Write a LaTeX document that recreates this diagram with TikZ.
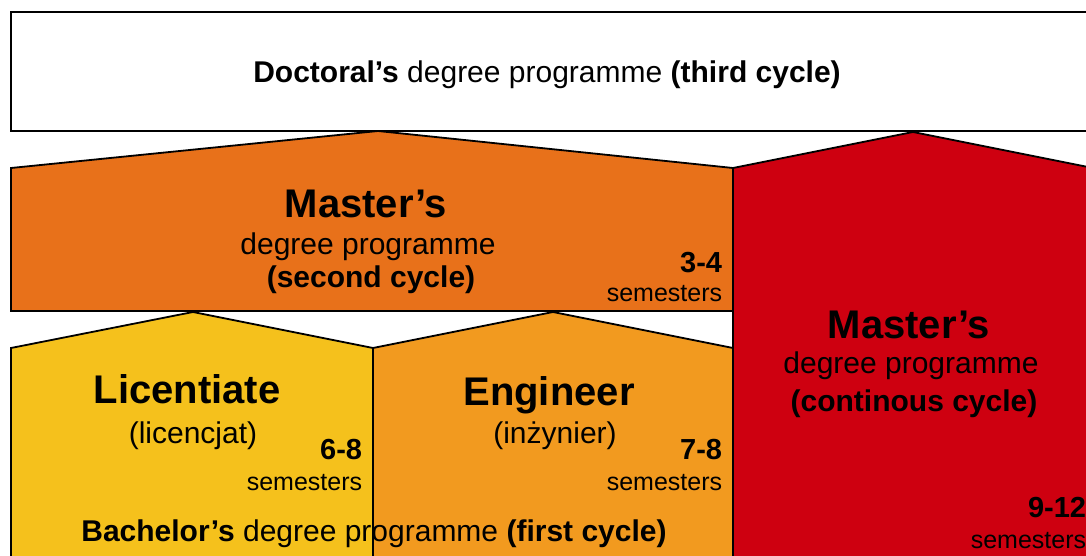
\documentclass[tikz,border=0pt]{standalone}
\usepackage{fontspec}
\setmainfont{Liberation Sans}
\definecolor{mastorange}{HTML}{E8711A}
\definecolor{contred}{HTML}{CE0010}
\definecolor{licyellow}{HTML}{F5C11C}
\definecolor{engorange}{HTML}{F29A1F}

\begin{document}
\begin{tikzpicture}[x=1pt, y=-1pt, line width=1.8pt,
    bigtxt/.style={inner sep=0pt, anchor=base, font=\fontsize{40}{48}\selectfont\bfseries},
    midtxt/.style={inner sep=0pt, anchor=base, font=\fontsize{30}{36}\selectfont},
    numtxt/.style={inner sep=0pt, anchor=base east, font=\fontsize{29}{35}\selectfont\bfseries},
    semtxt/.style={inner sep=0pt, anchor=base east, font=\fontsize{25}{30}\selectfont}]
  \useasboundingbox (0,0) rectangle (1086,556);

  % Blocks
  \draw[fill=white] (11,12) rectangle (1100,131);
  \draw[fill=mastorange] (11,311) -- (11,168) -- (378,131) -- (733,168) -- (733,311) -- cycle;
  \draw[fill=contred] (733,570) -- (733,168) -- (913,132) -- (1093,168) -- (1093,570);
  \draw[fill=licyellow] (11,570) -- (11,348) -- (193,312) -- (373,348) -- (373,570);
  \draw[fill=engorange] (373,570) -- (373,348) -- (553,312) -- (733,348) -- (733,570);

  % Nodes
  \node[midtxt] at (547,83) (doctoral) {\textbf{Doctoral’s} degree programme \textbf{(third cycle)}};

  \node[bigtxt] at (366,217) (second) {Master’s};
  \node[midtxt] at (368,254) (seconddeg) {degree programme};
  \node[midtxt] at (371,287) (secondcyc) {\textbf{(second cycle)}};
  \node[numtxt] at (723,272) (secondnum) {3-4};
  \node[semtxt] at (723,301) (secondsem) {semesters};

  \node[bigtxt] at (187,403) (lic) {Licentiate};
  \node[midtxt] at (193,443) (licpl) {(licencjat)};
  \node[numtxt] at (363,459) (licnum) {6-8};
  \node[semtxt] at (363,490) (licsem) {semesters};

  \node[bigtxt] at (549,405) (eng) {Engineer};
  \node[midtxt] at (555,443) (engpl) {(inżynier)};
  \node[numtxt] at (723,459) (engnum) {7-8};
  \node[semtxt] at (723,490) (engsem) {semesters};

  \node[bigtxt] at (909,338) (cont) {Master’s};
  \node[midtxt] at (911,373) (contdeg) {degree programme};
  \node[midtxt] at (914,411) (contcyc) {\textbf{(continous cycle)}};
  \node[numtxt] at (1087,517) (contnum) {9-12};
  \node[semtxt] at (1087,548) (contsem) {semesters};

  \node[midtxt] at (374,541) (bachelor) {\textbf{Bachelor’s} degree programme \textbf{(first cycle)}};
\end{tikzpicture}
\end{document}
